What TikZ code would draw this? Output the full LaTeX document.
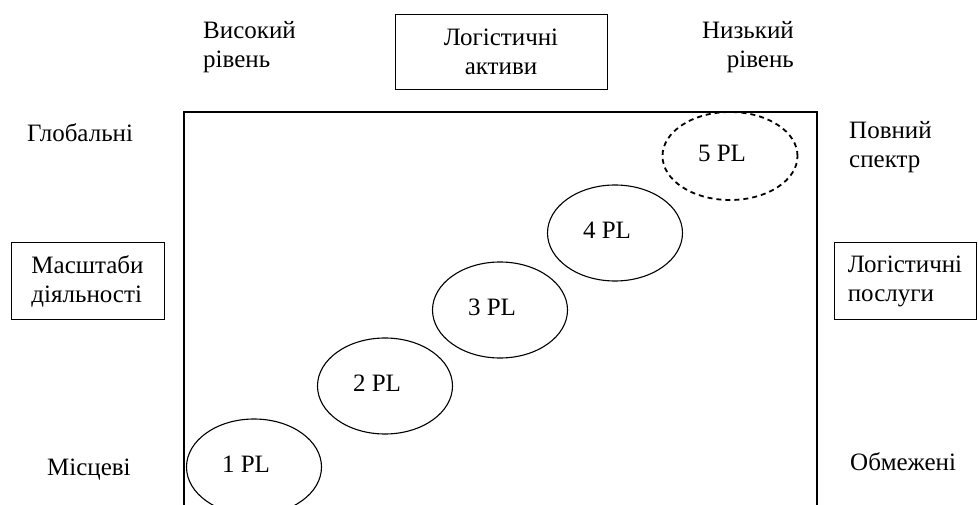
\documentclass[tikz,border=0pt]{standalone}
\usepackage{fontspec}
\setmainfont{Liberation Serif}
\usetikzlibrary{shapes.geometric}
\begin{document}
\begin{tikzpicture}[x=1pt,y=-1pt,
  lbl/.style={font=\fontsize{25}{28.5}\selectfont, inner sep=0pt},
  box/.style={draw, line width=1pt, font=\fontsize{25}{28.5}\selectfont, inner sep=0pt},
  pl/.style={draw, ellipse, line width=1.1pt, minimum width=135pt, minimum height=96pt, inner sep=0pt},
  plx/.style={pl, dash pattern=on 5pt off 4pt, line width=1.8pt},
  pltext/.style={font=\fontsize{25}{28}\selectfont, inner sep=0pt}]
\clip (0,0) rectangle (978,505);
\fill[white] (0,0) rectangle (978,505);
% main frame (open at the bottom, cut by the picture edge)
\coordinate (fbl) at (184,530);
\coordinate (ftl) at (184,112);
\coordinate (ftr) at (817,112);
\coordinate (fbr) at (817,530);
\draw[line width=1.1pt] (fbl) -- (ftl) -- (ftr) -- (fbr);
% top
\node[lbl, anchor=west, align=left] (hi) at (203,47) {Високий\\рівень};
\node[box, minimum width=212pt, minimum height=75pt, align=center] (assets) at (501,52) {Логістичні\\активи};
\node[lbl, anchor=east, align=right] (lo) at (794,47) {Низький\\рівень};
% left
\node[lbl, anchor=west] (glob) at (27,133) {Глобальні};
\node[box, minimum width=153pt, minimum height=77pt, align=left] (scale) at (87.5,281.5) {Масштаби\\діяльності};
\node[lbl, anchor=west] (loc) at (47,470) {Місцеві};
% right
\node[lbl, anchor=west, align=left] (full) at (849,147) {Повний\\спектр};
\node[box, minimum width=142pt, minimum height=77pt, align=left] (serv) at (905,281.5) {Логістичні\\послуги};
\node[lbl, anchor=west] (lim) at (850,462) {Обмежені};
% ellipses
\node[pl] (p1) at (254,467) {};
\node[pl] (p2) at (385,386) {};
\node[pl] (p3) at (500,310) {};
\node[pl] (p4) at (615,233) {};
\node[plx, minimum height=88pt] (p5) at (730,156) {};
\node[pltext] (t1) at ([xshift=-8pt,yshift=3pt]p1.center) {1 PL};
\node[pltext] (t2) at ([xshift=-8pt,yshift=3pt]p2.center) {2 PL};
\node[pltext] (t3) at ([xshift=-8pt,yshift=3pt]p3.center) {3 PL};
\node[pltext] (t4) at ([xshift=-8pt,yshift=3pt]p4.center) {4 PL};
\node[pltext] (t5) at ([xshift=-8pt,yshift=3pt]p5.center) {5 PL};
\end{tikzpicture}
\end{document}
